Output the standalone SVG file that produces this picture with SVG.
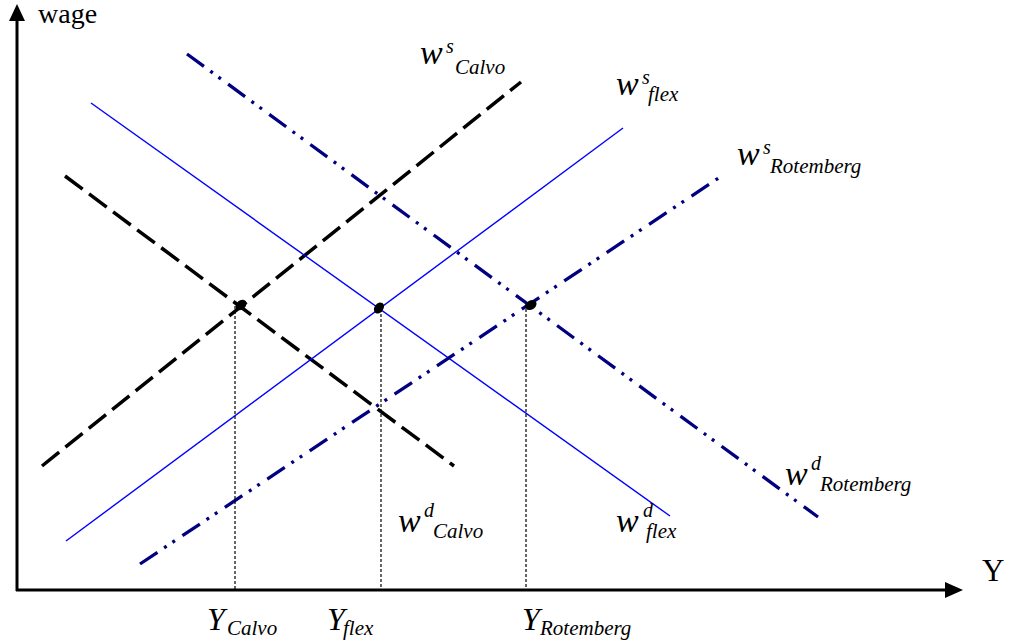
<svg xmlns="http://www.w3.org/2000/svg" width="1017" height="643" viewBox="0 0 1017 643">
<style>
.axis{stroke:#000;stroke-width:3;fill:none}
.calvo{stroke:#000;stroke-width:3.5;fill:none;stroke-dasharray:22 8}
.flex{stroke:#0000FF;stroke-width:1.4;fill:none}
.rot{stroke:#000080;stroke-width:3.3;fill:none;stroke-dasharray:21 8 3 7 3 9}
.drop{stroke:#000;stroke-width:1.2;fill:none;stroke-dasharray:3 2}
text{font-family:"Liberation Serif","Times New Roman",serif;fill:#000}
.w{font-size:34px;font-style:italic}
.sup{font-size:20px;font-style:italic}
.sub{font-size:21px;font-style:italic}
.Y{font-size:32px;font-style:italic}
</style>
<rect width="1017" height="643" fill="#fff"/>
<g id="axes">
<line class="axis" x1="17" y1="591" x2="17" y2="18"/>
<polygon points="17,4 9,21 25,21" fill="#000"/>
<line class="axis" x1="16" y1="590" x2="948" y2="590"/>
<polygon points="963,590 945,582 945,598" fill="#000"/>
<text x="38" y="23" font-size="28">wage</text>
<text x="982" y="581" font-size="31">Y</text>
</g>
<g id="connectors">
<line class="calvo" x1="42" y1="466" x2="521" y2="82"/>
<line class="calvo" x1="65" y1="176" x2="454" y2="466"/>
<line class="flex" x1="66" y1="541" x2="623" y2="128"/>
<line class="flex" x1="91" y1="103" x2="670" y2="516"/>
<line class="rot" x1="140" y1="564" x2="720" y2="177"/>
<line class="rot" x1="187" y1="54" x2="818" y2="517"/>
<line class="drop" x1="235" y1="306" x2="235" y2="589"/>
<line class="drop" x1="381" y1="309" x2="381" y2="589"/>
<line class="drop" x1="526" y1="304" x2="526" y2="589"/>
</g>
<g id="equilibria">
<ellipse cx="241" cy="305" rx="6" ry="4.5" transform="rotate(-40 241 305)" fill="#000"/>
<ellipse cx="379" cy="308" rx="6" ry="4.5" transform="rotate(-55 379 308)" fill="#000"/>
<ellipse cx="531" cy="305" rx="6" ry="4.5" transform="rotate(-35 531 305)" fill="#000"/>
</g>
<g id="label-ws-calvo">
<text class="w" x="420" y="64">w</text>
<text class="sup" x="446" y="53">s</text>
<text class="sub" x="455" y="74">Calvo</text>
</g>
<g id="label-ws-flex">
<text class="w" x="616" y="95">w</text>
<text class="sup" x="642" y="84">s</text>
<text class="sub" x="648" y="101">flex</text>
</g>
<g id="label-ws-rot">
<text class="w" x="737" y="165">w</text>
<text class="sup" x="763" y="154">s</text>
<text class="sub" x="770" y="173">Rotemberg</text>
</g>
<g id="label-wd-calvo">
<text class="w" x="398" y="532">w</text>
<text class="sup" x="424" y="517">d</text>
<text class="sub" x="433" y="538">Calvo</text>
</g>
<g id="label-wd-flex">
<text class="w" x="616" y="532">w</text>
<text class="sup" x="643" y="517">d</text>
<text class="sub" x="646" y="538">flex</text>
</g>
<g id="label-wd-rot">
<text class="w" x="785" y="485">w</text>
<text class="sup" x="811" y="470">d</text>
<text class="sub" x="820" y="491">Rotemberg</text>
</g>
<g id="label-y-calvo">
<text class="Y" x="207" y="630">Y</text>
<text class="sub" x="227" y="635">Calvo</text>
</g>
<g id="label-y-flex">
<text class="Y" x="327" y="630">Y</text>
<text class="sub" x="343" y="635">flex</text>
</g>
<g id="label-y-rot">
<text class="Y" x="522" y="630">Y</text>
<text class="sub" x="540" y="635">Rotemberg</text>
</g>
</svg>
